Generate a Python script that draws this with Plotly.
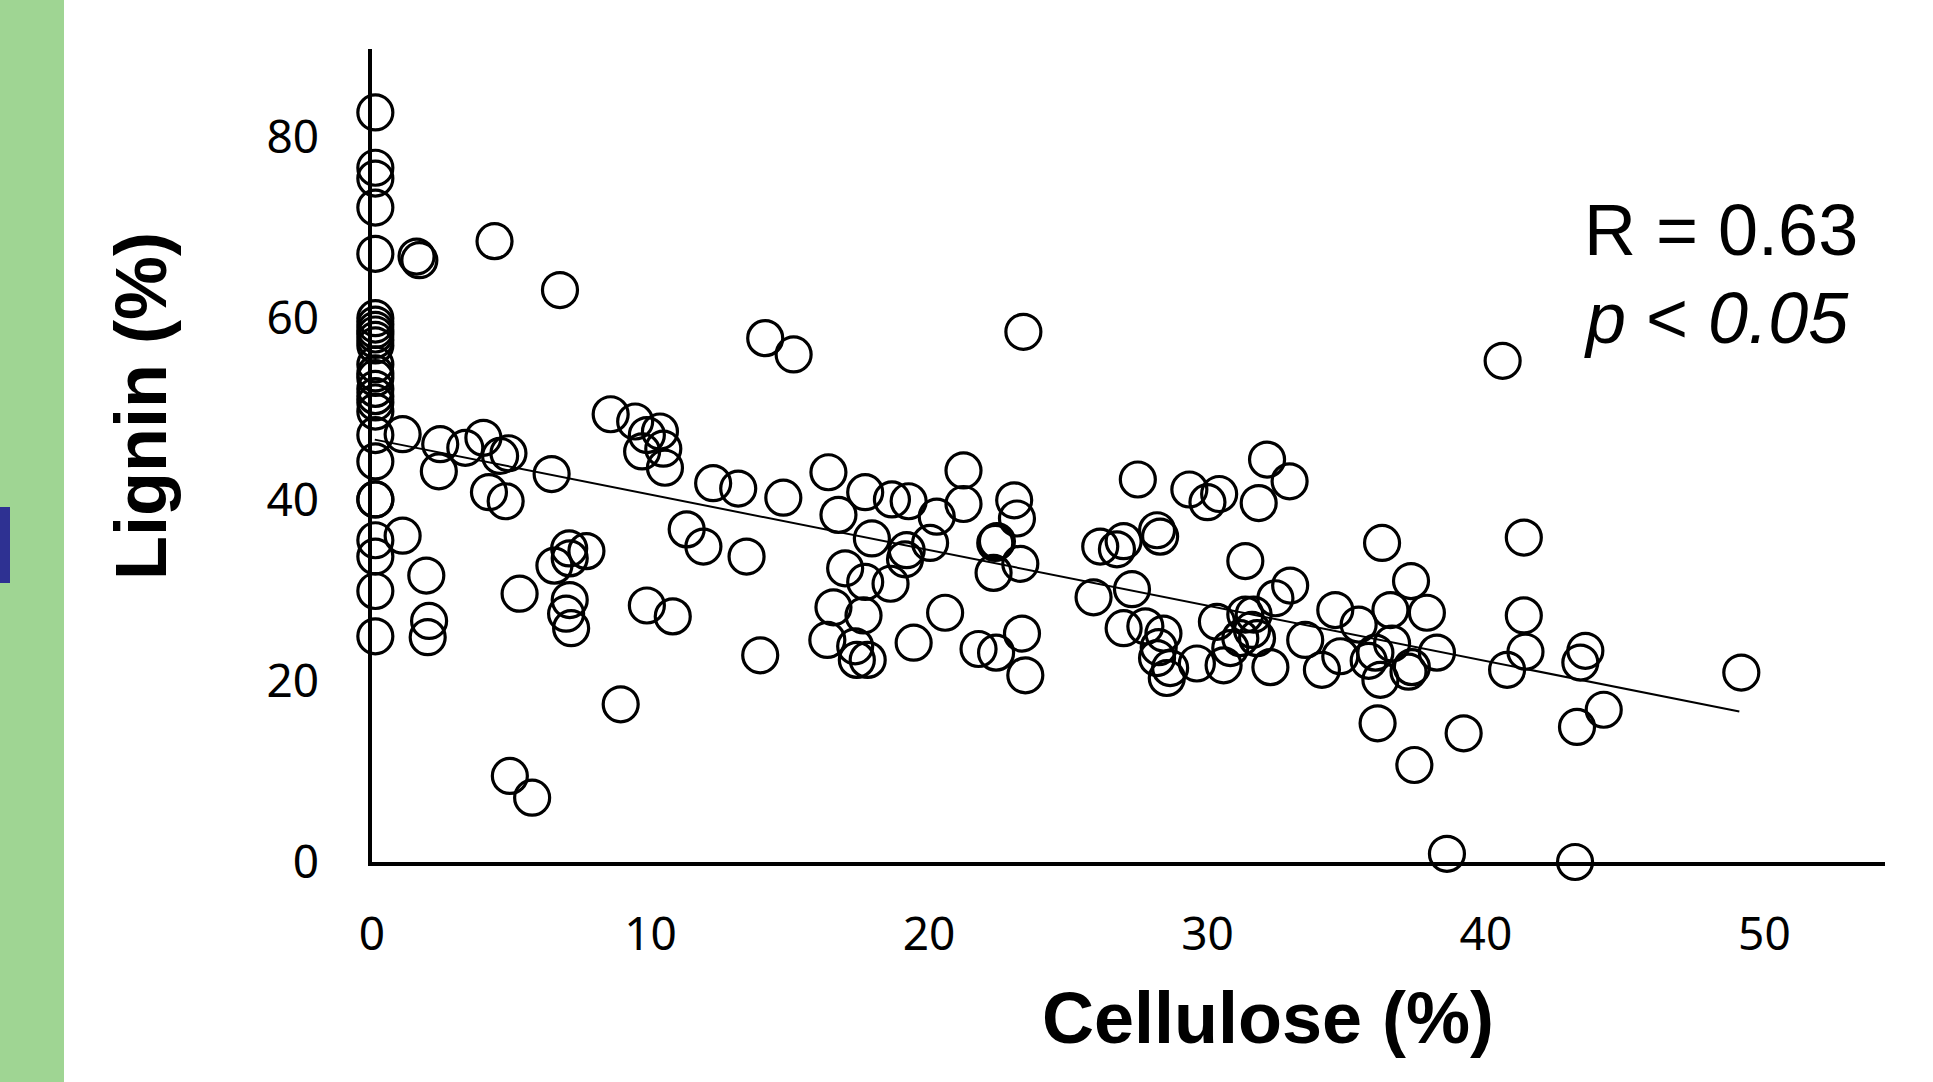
import plotly.graph_objects as go

# ---- data ----
column_lignin = [82.7, 76.6, 75.4, 72.2, 67.1, 60.0, 59.3, 58.7, 58.2, 57.6, 57.0,
                 54.9, 53.9, 53.4, 52.2, 51.4, 50.7, 49.7, 47.1, 44.2, 40.0, 40.0,
                 35.5, 33.7, 29.9, 24.9]
column_cellulose = [0.12] * len(column_lignin)

other_points = [
    (1.1, 47.2), (1.1, 36.0), (1.6, 66.8), (1.7, 66.4), (1.95, 31.6), (2.05, 26.6),
    (2.0, 24.8), (2.45, 46.1), (2.4, 43.1), (3.35, 45.7), (4.0, 46.8), (4.4, 68.5),
    (4.6, 44.8), (4.9, 45.1), (4.2, 40.8), (4.8, 39.8), (4.95, 9.5), (5.75, 7.1),
    (5.3, 29.6), (6.45, 42.8), (6.75, 63.1), (6.55, 32.7), (7.08, 34.6), (7.1, 33.5),
    (7.7, 34.3), (7.1, 28.9), (6.97, 27.4), (7.15, 25.8), (8.93, 17.4), (8.57, 49.4),
    (9.45, 48.6), (9.87, 47.1), (10.34, 47.5), (10.46, 45.6), (9.7, 45.3), (10.52, 43.5),
    (9.87, 28.3), (10.8, 27.1), (11.3, 36.7), (11.9, 34.8), (12.25, 41.8), (13.15, 41.2),
    (13.45, 33.7), (13.94, 22.8), (14.12, 57.8), (15.14, 56.0), (14.77, 40.2), (16.39, 43.0),
    (16.75, 38.3), (17.71, 40.8), (18.67, 40.0), (19.27, 39.8), (20.28, 38.1), (21.24, 43.2),
    (21.24, 39.5), (23.06, 39.9), (23.16, 37.9), (22.44, 35.4), (22.38, 35.2), (23.28, 32.9),
    (22.32, 31.9), (20.04, 35.2), (19.2, 34.4), (19.14, 33.4), (17.95, 35.7), (16.99, 32.4),
    (17.71, 30.9), (18.62, 30.7), (16.57, 28.1), (17.65, 27.2), (16.35, 24.5), (17.35, 23.8),
    (17.41, 22.3), (17.8, 22.3), (19.45, 24.2), (20.58, 27.5), (21.78, 23.5), (22.41, 23.1),
    (23.34, 25.2), (23.46, 20.6), (23.39, 58.5),
    (27.5, 42.2), (26.15, 34.8), (26.75, 34.5), (26.99, 35.4), (25.91, 29.2), (27.29, 30.1),
    (26.99, 25.8), (27.77, 26.0), (28.42, 25.2), (28.25, 23.7), (28.19, 22.5), (28.66, 21.4),
    (28.54, 20.3), (29.62, 21.9), (28.19, 36.6), (28.3, 35.9), (29.35, 41.1), (30.0, 39.7),
    (30.42, 40.6), (32.14, 44.4), (32.95, 42.0), (31.84, 39.6), (31.36, 33.2), (32.97, 30.5),
    (32.44, 29.1), (30.34, 26.5), (30.58, 21.7), (30.82, 23.6), (31.36, 27.3), (31.66, 27.3),
    (31.78, 24.7), (31.18, 24.7), (31.6, 25.6), (32.26, 21.5), (33.51, 24.5), (34.59, 27.8),
    (34.11, 21.2), (34.77, 22.7), (35.43, 26.2), (36.27, 35.2), (37.31, 31.0), (36.57, 27.8),
    (37.88, 27.5), (36.63, 24.1), (36.03, 23.1), (35.79, 22.2), (36.21, 20.1), (37.22, 21.0),
    (37.34, 21.5), (38.24, 23.1), (40.76, 21.2), (41.36, 35.8), (41.36, 27.2), (41.42, 23.2),
    (43.57, 23.3), (43.39, 22.0), (44.23, 16.8), (43.27, 14.9), (49.17, 20.9), (43.2, 0.0),
    (38.6, 0.9), (40.6, 55.3), (36.11, 15.3), (39.2, 14.2), (37.43, 10.7),
]

cellulose = column_cellulose + [p[0] for p in other_points]
lignin = column_lignin + [p[1] for p in other_points]

trend_x = [0.1, 49.1]
trend_y = [46.6, 16.6]

x_ticks = [0, 10, 20, 30, 40, 50]
y_ticks = [0, 20, 40, 60, 80]

# ---- layout geometry (pixels) ----
W, H = 1933, 1082
L, R, T, B = 372, 48, 49, 220
PW, PH = W - L - R, H - T - B


def px(xpix):
    return (xpix - L) / PW


def py(ypix):
    return (H - B - ypix) / PH


fig = go.Figure()

fig.add_trace(go.Scatter(
    x=trend_x, y=trend_y, mode="lines",
    line=dict(color="black", width=2),
    hoverinfo="skip", cliponaxis=False,
))

fig.add_trace(go.Scatter(
    x=cellulose, y=lignin, mode="markers",
    marker=dict(symbol="circle-open", size=35, color="black",
                line=dict(width=3.2, color="black")),
    cliponaxis=False,
))

tick_font = dict(family="Noto Sans, Open Sans, sans-serif", size=46, color="black")

fig.update_xaxes(
    range=[0, 54.33], showline=True, linewidth=3.6, linecolor="black",
    showgrid=False, zeroline=False, ticks="", tickvals=x_ticks,
    ticktext=[str(v) for v in x_ticks], tickfont=tick_font,
    ticklabelstandoff=29,
)
fig.update_yaxes(
    range=[0, 89.7], showline=True, linewidth=3.6, linecolor="black",
    showgrid=False, zeroline=False, ticks="", tickvals=y_ticks,
    ticktext=[str(v) for v in y_ticks], tickfont=tick_font,
    ticklabelstandoff=40,
)

title_font = dict(family="Arial, Liberation Sans, sans-serif", size=72, color="black")
stat_font = dict(family="Arial, Liberation Sans, sans-serif", size=72, color="black")

annotations = [
    dict(text="<b>Cellulose (%)</b>", x=px(1268), y=py(1018), xref="paper", yref="paper",
         xanchor="center", yanchor="middle", showarrow=False, font=title_font),
    dict(text="<b>Lignin (%)</b>", x=px(141), y=py(406), xref="paper", yref="paper",
         xanchor="center", yanchor="middle", showarrow=False, font=title_font, textangle=-90),
    dict(text="R = 0.63", x=px(1582), y=py(230), xref="paper", yref="paper",
         xanchor="left", yanchor="middle", showarrow=False, font=stat_font),
    dict(text="<i>p</i> < <i>0.05</i>", x=px(1582), y=py(318), xref="paper", yref="paper",
         xanchor="left", yanchor="middle", showarrow=False, font=stat_font),
]

shapes = [
    dict(type="rect", xref="paper", yref="paper", x0=px(-5), x1=px(64), y0=py(H + 5), y1=py(-5),
         fillcolor="#9fd593", line=dict(width=0), layer="below"),
    dict(type="rect", xref="paper", yref="paper", x0=px(-5), x1=px(10), y0=py(583), y1=py(507),
         fillcolor="#2e3192", line=dict(width=0), layer="below"),
]

fig.update_layout(
    width=W, height=H, margin=dict(l=L, r=R, t=T, b=B, autoexpand=False),
    paper_bgcolor="white", plot_bgcolor="white", showlegend=False,
    annotations=annotations, shapes=shapes,
)

fig.write_html("out.html")
